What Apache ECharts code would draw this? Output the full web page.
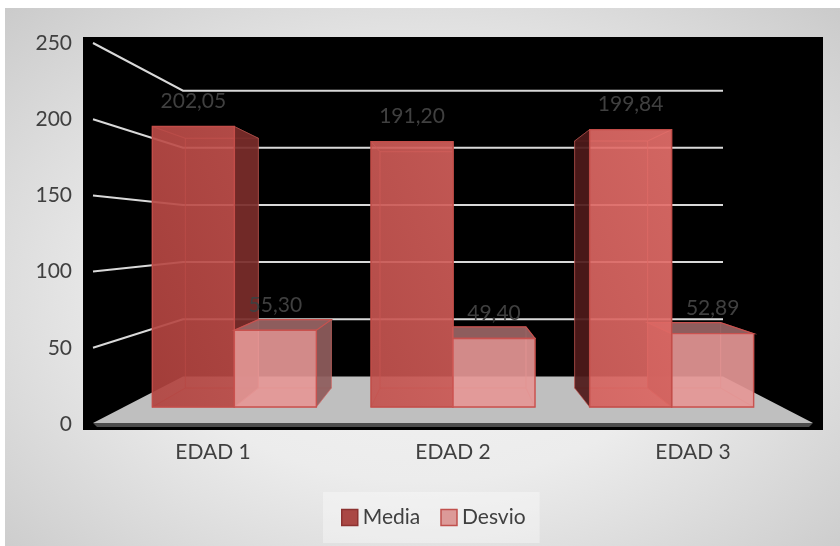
<!DOCTYPE html>
<html>
<head>
<meta charset="utf-8">
<title>Media y Desvio por edad</title>
<script src="https://cdn.jsdelivr.net/npm/echarts@6/dist/echarts.min.js"></script>
<style>
  html, body { margin: 0; padding: 0; background: #ffffff; }
  #frame {
    position: absolute; left: 5px; top: 8px; width: 835px; height: 538px;
    background: radial-gradient(ellipse 75% 80% at 50% 52%, #f4f4f4 0%, #ececec 45%, #c6c6c6 100%);
  }
  #chart { position: absolute; left: 0; top: 0; width: 840px; height: 546px; }
</style>
</head>
<body>
<div id="frame"></div>
<div id="chart"></div>
<script>
// Categories and values
const categories = ['EDAD 1', 'EDAD 2', 'EDAD 3'];
const mediaValues = [202.05, 191.20, 199.84];
const desvioValues = [55.30, 49.40, 52.89];
const yTicks = [0, 50, 100, 150, 200, 250];

// Depth of the pseudo-3D scene, as a perspective scale toward the plot centre
const FRONT = 0.911;   // front faces of the columns
const BACK = 0.811;    // back faces of the columns
const WALL = 0.75;     // back wall
const BAR_FRAC = 0.375; // column width as a share of the category band
const FONT = 'Lato, "Open Sans", sans-serif';

function proj(x, y, s, vx, vy) {
  return [vx + (x - vx) * s, vy + (y - vy) * s];
}

function fmt(v) {
  return v.toFixed(2).replace('.', ',');
}

const palettes = {
  media: {
    front: {
      type: 'linear', global: true, x: 100, y: 420, x2: 760, y2: 130,
      colorStops: [{ offset: 0, color: 'rgba(172,62,58,0.9)' }, { offset: 1, color: 'rgba(238,118,114,0.9)' }]
    },
    back: 'rgba(192,80,77,0.12)',
    bottom: 'rgba(192,80,77,0.22)',
    sideRight: 'rgba(122,44,42,0.92)',
    sideLeft: 'rgba(78,26,26,0.92)',
    top: 'rgba(150,60,58,0.9)',
    edge: '#c24d49',
    innerEdge: 'rgba(205,95,90,0.5)'
  },
  desvio: {
    front: 'rgba(229,151,149,0.91)',
    back: 'rgba(217,150,148,0.12)',
    bottom: 'rgba(217,150,148,0.22)',
    sideRight: 'rgba(142,92,92,0.92)',
    sideLeft: 'rgba(108,64,64,0.92)',
    top: 'rgba(152,100,100,0.92)',
    edge: '#c9524f',
    innerEdge: 'rgba(215,110,105,0.5)'
  }
};

function makeBarRenderer(side, pal) {
  return function (params, api) {
    const cs = params.coordSys;
    const vx = cs.x + cs.width / 2, vy = cs.y + cs.height / 2;
    const cat = api.value(0), val = api.value(1);
    const topPt = api.coord([cat, val]);
    const basePt = api.coord([cat, 0]);
    const bw = api.size([1, 0])[0] * BAR_FRAC;
    const x0 = side < 0 ? topPt[0] - bw : topPt[0];
    const x1 = x0 + bw;
    const yt = topPt[1], yb = basePt[1];
    const F = (x, y) => proj(x, y, FRONT, vx, vy);
    const B = (x, y) => proj(x, y, BACK, vx, vy);

    // paint order: columns farther from the centre go first
    const rightGroup = topPt[0] > vx + 1;
    const order = rightGroup ? (side < 0 ? 1 : 0) : (side < 0 ? 0 : 1);
    const z = 10 + order * 10;

    const poly = (pts, fill, stroke, lw, dz) => ({
      type: 'polygon', z2: z + dz,
      shape: { points: pts },
      style: { fill: fill, stroke: stroke, lineWidth: lw }
    });

    const back = poly([B(x0, yt), B(x1, yt), B(x1, yb), B(x0, yb)], pal.back, pal.innerEdge, 1, 0);
    const bottom = poly([F(x0, yb), F(x1, yb), B(x1, yb), B(x0, yb)], pal.bottom, pal.innerEdge, 1, 1);
    const leftSide = poly([F(x0, yt), B(x0, yt), B(x0, yb), F(x0, yb)], pal.sideLeft, pal.innerEdge, 1, 0);
    const rightSide = poly([F(x1, yt), B(x1, yt), B(x1, yb), F(x1, yb)], pal.sideRight, pal.innerEdge, 1, 0);
    const topFace = poly([F(x0, yt), F(x1, yt), B(x1, yt), B(x0, yt)], pal.top, pal.edge, 1.2, 0);

    const children = [back, bottom];
    const leftVisible = x0 > vx;   // left side seen when column sits right of centre
    const rightVisible = x1 < vx;  // right side seen when column sits left of centre
    const topVisible = yt > vy;

    leftSide.z2 = z + (leftVisible ? 3 : 2);
    rightSide.z2 = z + (rightVisible ? 3 : 2);
    if (!leftVisible) leftSide.style.fill = pal.back;
    if (!rightVisible) rightSide.style.fill = pal.back;
    children.push(leftSide, rightSide);
    topFace.z2 = z + (topVisible ? 4 : 2);
    if (!topVisible) { topFace.style.fill = pal.back; topFace.style.stroke = pal.innerEdge; topFace.style.lineWidth = 1; }
    children.push(topFace);

    const f0 = F(x0, yt), f1 = F(x1, yb);
    children.push({
      type: 'rect', z2: z + 5,
      shape: { x: f0[0], y: f0[1], width: f1[0] - f0[0], height: f1[1] - f0[1] },
      style: { fill: pal.front, stroke: pal.edge, lineWidth: 1.4 }
    });
    children.push({
      type: 'text', z2: 100,
      style: {
        text: fmt(val), x: (f0[0] + f1[0]) / 2, y: f0[1] - 25,
        fill: '#404040', font: '21px ' + FONT, align: 'center', verticalAlign: 'middle'
      }
    });
    return { type: 'group', children: children };
  };
}

// Black panel, floor and the wall gridlines drawn at each tick value
function renderWalls(params, api) {
  const cs = params.coordSys;
  const vx = cs.x + cs.width / 2, vy = cs.y + cs.height / 2;
  const v = api.value(1);
  const y = api.coord([0, v])[1];
  const xl = cs.x, xr = cs.x + cs.width;
  const children = [];
  if (v === 0) {
    children.push({
      type: 'rect', z2: 0,
      shape: { x: xl - 10, y: cs.y - 6, width: cs.width + 20, height: cs.height + 12 },
      style: { fill: '#000000' }
    });
    children.push({
      type: 'polygon', z2: 1,
      shape: { points: [[xl, y - 1], [xr, y - 1], proj(xr, y, WALL, vx, vy), proj(xl, y, WALL, vx, vy)] },
      style: { fill: '#bfbfbf' }
    });
    children.push({
      type: 'polygon', z2: 1,
      shape: { points: [[xl, y - 1], [xr, y - 1], [xr - 4, y + 3], [xl + 4, y + 3]] },
      style: { fill: '#4d4d4d' }
    });
  } else {
    children.push({
      type: 'polyline', z2: 2,
      shape: { points: [[xl, y], proj(xl, y, WALL, vx, vy), proj(xr, y, WALL, vx, vy)] },
      style: { stroke: '#d9d9d9', lineWidth: 2, fill: null }
    });
  }
  return { type: 'group', children: children };
}

const chart = echarts.init(document.getElementById('chart'), null, { renderer: 'canvas' });
chart.setOption({
  backgroundColor: 'transparent',
  animation: false,
  textStyle: { fontFamily: FONT },
  grid: { left: 93, right: 27, top: 43, bottom: 122, containLabel: false },
  xAxis: {
    type: 'category', data: categories,
    axisLine: { show: false }, axisTick: { show: false }, splitLine: { show: false },
    axisLabel: { color: '#404040', fontSize: 21, margin: 18, fontFamily: FONT }
  },
  yAxis: {
    type: 'value', min: 0, max: 250, interval: 50,
    axisLine: { show: false }, axisTick: { show: false }, splitLine: { show: false },
    axisLabel: { color: '#404040', fontSize: 21, margin: 21, fontFamily: FONT }
  },
  legend: {
    left: 323, top: 492,
    padding: [15, 14, 15, 18],
    backgroundColor: 'rgba(255,255,255,0.35)',
    itemWidth: 16, itemHeight: 16, itemGap: 20,
    icon: 'rect',
    textStyle: { color: '#404040', fontSize: 21, fontFamily: FONT },
    data: [
      { name: 'Media', itemStyle: { color: '#aa4744', borderColor: '#8c3230', borderWidth: 1.5 } },
      { name: 'Desvio', itemStyle: { color: '#dc9a98', borderColor: '#c0504d', borderWidth: 1.5 } }
    ]
  },
  series: [
    {
      type: 'custom', name: 'walls', z: 1, clip: false, silent: true,
      renderItem: renderWalls,
      data: yTicks.map(v => [0, v])
    },
    {
      type: 'custom', name: 'Media', z: 2, clip: false,
      itemStyle: { color: '#aa4744' },
      renderItem: makeBarRenderer(-1, palettes.media),
      data: mediaValues.map((v, i) => [i, v])
    },
    {
      type: 'custom', name: 'Desvio', z: 2, clip: false,
      itemStyle: { color: '#dc9a98' },
      renderItem: makeBarRenderer(1, palettes.desvio),
      data: desvioValues.map((v, i) => [i, v])
    }
  ]
});
</script>
</body>
</html>
